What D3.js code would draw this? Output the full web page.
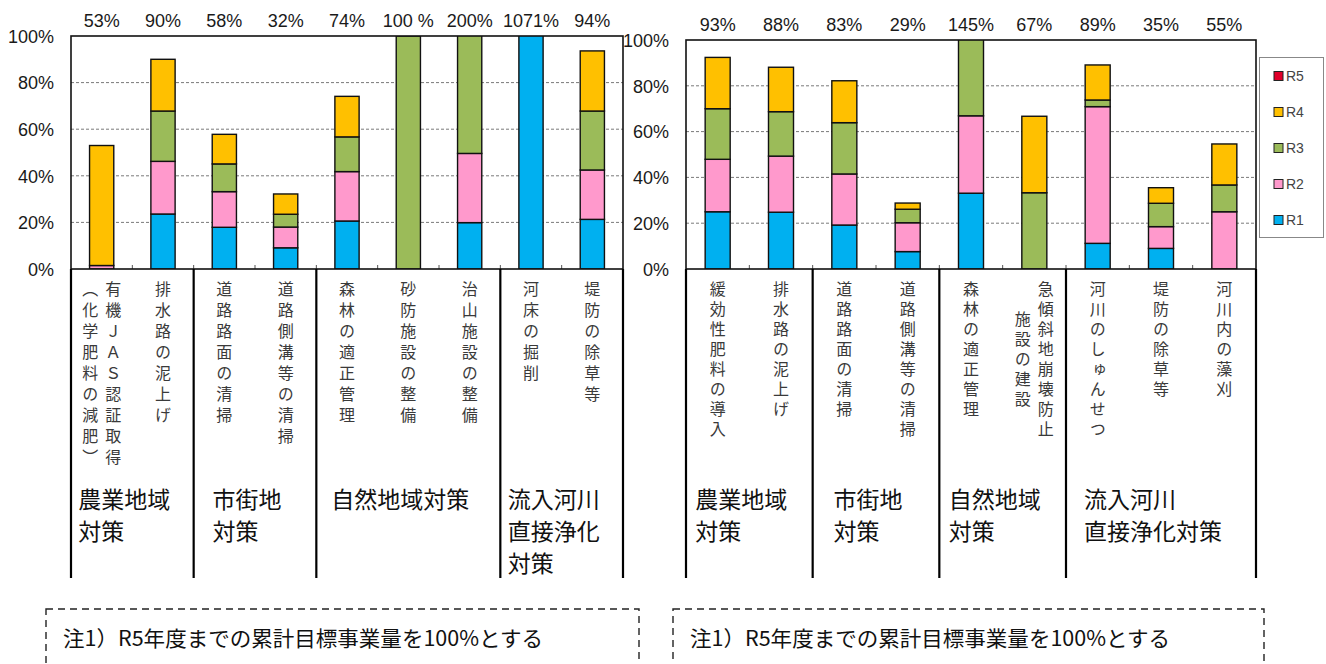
<!DOCTYPE html>
<html>
<head>
<meta charset="utf-8">
<script src="https://cdn.jsdelivr.net/npm/d3@7"></script>
<style>
  html, body { margin: 0; padding: 0; background: #fff; }
  svg { display: block; }
  .num { font-family: "Liberation Sans", Arial, sans-serif; }
  .jp { font-family: "Noto Sans CJK JP", sans-serif; }
</style>
</head>
<body>
<svg id="chart" width="1326" height="664"></svg>
<script>
// ---------------- DATA ----------------
const seriesNames = ["R1", "R2", "R3", "R4", "R5"];
const seriesColors = ["#00B0F0", "#FF99CC", "#9BBB59", "#FFC000", "#E0002A"];
const yTicks = [0, 20, 40, 60, 80, 100];

// Left chart
const leftCategories = ["有機JAS", "排水路L", "道路路面L", "道路側溝L", "森林L", "砂防", "治山", "河床", "堤防L"];
const leftLabelCols = [
  ["有機ＪＡＳ認証取得", "（化学肥料の減肥）"],
  ["排水路の泥上げ"],
  ["道路路面の清掃"],
  ["道路側溝等の清掃"],
  ["森林の適正管理"],
  ["砂防施設の整備"],
  ["治山施設の整備"],
  ["河床の掘削"],
  ["堤防の除草等"]
];
const leftR1 = [0, 23.6, 17.9, 9.1, 20.6, 0, 19.9, 1071, 21.3];
const leftR2 = [1.5, 22.6, 15.3, 8.9, 21.2, 0, 29.7, 0, 21.2];
const leftR3 = [0, 21.6, 11.9, 5.5, 14.9, 100, 150.4, 0, 25.3];
const leftR4 = [51.5, 22.2, 12.7, 8.7, 17.4, 0, 0, 0, 25.8];
const leftR5 = [0, 0, 0, 0, 0, 0, 0, 0, 0];
const leftTotals = ["53%", "90%", "58%", "32%", "74%", "100 %", "200%", "1071%", "94%"];
const leftGroupLines = [["農業地域", "対策"], ["市街地", "対策"], ["自然地域対策"], ["流入河川", "直接浄化", "対策"]];
const leftGroupSizes = [2, 2, 3, 2];

// Right chart
const rightCategories = ["緩効性", "排水路R", "道路路面R", "道路側溝R", "森林R", "急傾斜", "河川しゅんせつ", "堤防R", "藻刈"];
const rightLabelCols = [
  ["緩効性肥料の導入"],
  ["排水路の泥上げ"],
  ["道路路面の清掃"],
  ["道路側溝等の清掃"],
  ["森林の適正管理"],
  ["急傾斜地崩壊防止", "施設の建設"],
  ["河川のしゅんせつ"],
  ["堤防の除草等"],
  ["河川内の藻刈"]
];
const rightR1 = [25.0, 24.8, 19.2, 7.6, 33.1, 0, 11.2, 9.0, 0];
const rightR2 = [22.9, 24.5, 22.3, 12.6, 33.8, 0, 59.7, 9.5, 25.0];
const rightR3 = [22.1, 19.4, 22.4, 5.9, 78.1, 33.3, 2.9, 10.2, 11.7];
const rightR4 = [22.4, 19.4, 18.3, 2.7, 0, 33.4, 15.3, 6.8, 17.9];
const rightR5 = [0, 0, 0, 0, 0, 0, 0, 0, 0];
const rightTotals = ["93%", "88%", "83%", "29%", "145%", "67%", "89%", "35%", "55%"];
const rightGroupLines = [["農業地域", "対策"], ["市街地", "対策"], ["自然地域", "対策"], ["流入河川", "直接浄化対策"]];
const rightGroupSizes = [2, 2, 2, 3];

const noteText = "注1）R5年度までの累計目標事業量を100%とする";

// ---------------- DRAW ----------------
const svg = d3.select("#chart");

function drawChart(cfg) {
  const { id, left, right, top, bottom, cats, labelCols, series, totals, groupLines, groupSizes,
          yLabelX, totalsY, charPitch, lineBottom } = cfg;
  const g = svg.append("g");
  const x = d3.scaleBand().domain(cats).range([left, right]).paddingInner(0.605).paddingOuter(0.3025);
  const y = d3.scaleLinear().domain([0, 100]).range([bottom, top]);
  const step = x.step();
  const boundary = i => left + i * step;

  // gridlines
  g.selectAll(".grid").data(yTicks.filter(t => t > 0 && t < 100)).join("line")
    .attr("x1", left).attr("x2", right)
    .attr("y1", d => y(d)).attr("y2", d => y(d))
    .attr("stroke", "#7a7a7a").attr("stroke-width", 1).attr("stroke-dasharray", "3,2");

  // y labels
  g.selectAll(".ylab").data(yTicks).join("text")
    .attr("class", "num")
    .attr("x", yLabelX).attr("y", d => y(d) + 2)
    .attr("text-anchor", "end").attr("dominant-baseline", "middle")
    .attr("font-size", 18).attr("fill", "#1a1a1a")
    .text(d => d + "%");

  // clip
  svg.append("clipPath").attr("id", "clip" + id)
    .append("rect").attr("x", left).attr("y", top).attr("width", right - left).attr("height", bottom - top);

  // stacked bars
  const rows = cats.map((c, i) => {
    const o = { cat: c };
    seriesNames.forEach((s, k) => o[s] = series[k][i]);
    return o;
  });
  const stack = d3.stack().keys(seriesNames)(rows);
  const barG = g.append("g").attr("clip-path", `url(#clip${id})`);
  stack.forEach((layer, k) => {
    barG.selectAll(".seg" + k).data(layer.filter(d => d[1] - d[0] > 0)).join("rect")
      .attr("x", d => x(d.data.cat))
      .attr("width", x.bandwidth())
      .attr("y", d => y(d[1]))
      .attr("height", d => y(d[0]) - y(d[1]))
      .attr("fill", seriesColors[k])
      .attr("stroke", "#111").attr("stroke-width", 1.4);
  });

  // tick marks at bottom
  g.selectAll(".tick").data(d3.range(1, cats.length)).join("line")
    .attr("x1", d => boundary(d)).attr("x2", d => boundary(d))
    .attr("y1", bottom).attr("y2", bottom - 4)
    .attr("stroke", "#555").attr("stroke-width", 1);

  // plot frame
  g.append("rect").attr("x", left).attr("y", top).attr("width", right - left).attr("height", bottom - top)
    .attr("fill", "none").attr("stroke", "#111").attr("stroke-width", 1.6);

  // totals on top
  g.selectAll(".tot").data(totals).join("text")
    .attr("class", "num")
    .attr("x", (d, i) => x(cats[i]) + x.bandwidth() / 2)
    .attr("y", totalsY)
    .attr("text-anchor", "middle").attr("dominant-baseline", "middle")
    .attr("font-size", 18).attr("fill", "#1a1a1a")
    .text(d => d);

  // vertical category labels
  const vfs = 16;
  labelCols.forEach((cols, i) => {
    const cx = x(cats[i]) + x.bandwidth() / 2;
    const n = cols.length;
    cols.forEach((txt, j) => {
      const colX = n === 1 ? cx : cx + (j === 0 ? 11.5 : -11.5);
      const offset = j === 0 ? 0 : (cols[0].length - txt.length) * charPitch / 2;
      g.append("text")
        .attr("class", "jp")
        .attr("x", colX).attr("y", 281 + offset)
        .attr("font-size", vfs)
        .attr("fill", "#3a3a3a")
        .style("writing-mode", "vertical-rl")
        .style("letter-spacing", (charPitch - vfs) + "px")
        .text(txt);
    });
  });

  // group dividers and labels
  let idx = 0;
  const bounds = [0];
  groupSizes.forEach(s => { idx += s; bounds.push(idx); });
  g.selectAll(".div").data(bounds).join("line")
    .attr("x1", d => boundary(d)).attr("x2", d => boundary(d))
    .attr("y1", bottom).attr("y2", lineBottom)
    .attr("stroke", "#000").attr("stroke-width", 2.2);

  groupLines.forEach((lines, gi) => {
    const gx0 = boundary(bounds[gi]), gx1 = boundary(bounds[gi + 1]);
    const fs = 23;
    const blockW = d3.max(lines, l => l.length) * fs;
    const lx = (gx0 + gx1) / 2 - blockW / 2 - 8;
    lines.forEach((l, li) => {
      g.append("text").attr("class", "jp")
        .attr("x", lx).attr("y", 502 + li * 32)
        .attr("dominant-baseline", "middle")
        .attr("font-size", fs).attr("fill", "#111")
        .text(l);
    });
  });
}

drawChart({
  id: "L", left: 71, right: 623, top: 36, bottom: 269,
  cats: leftCategories, labelCols: leftLabelCols,
  series: [leftR1, leftR2, leftR3, leftR4, leftR5], totals: leftTotals,
  groupLines: leftGroupLines, groupSizes: leftGroupSizes,
  yLabelX: 54, totalsY: 22, charPitch: 21, lineBottom: 578
});

drawChart({
  id: "R", left: 686, right: 1256, top: 40, bottom: 269,
  cats: rightCategories, labelCols: rightLabelCols,
  series: [rightR1, rightR2, rightR3, rightR4, rightR5], totals: rightTotals,
  groupLines: rightGroupLines, groupSizes: rightGroupSizes,
  yLabelX: 669, totalsY: 26, charPitch: 20, lineBottom: 578
});

// legend
const legend = svg.append("g");
legend.append("rect").attr("x", 1259.5).attr("y", 57.5).attr("width", 64).attr("height", 180)
  .attr("fill", "#fff").attr("stroke", "#888").attr("stroke-width", 1);
const legendOrder = seriesNames.map((s, k) => ({ s, k })).reverse();
const ly = d3.scalePoint().domain(legendOrder.map(d => d.s)).range([76, 220]);
legend.selectAll(".lsw").data(legendOrder).join("rect")
  .attr("x", 1274).attr("y", d => ly(d.s) - 4.5).attr("width", 9).attr("height", 9)
  .attr("fill", d => seriesColors[d.k]).attr("stroke", "#222").attr("stroke-width", 1);
legend.selectAll(".ltx").data(legendOrder).join("text")
  .attr("class", "num")
  .attr("x", 1286).attr("y", d => ly(d.s) + 1)
  .attr("dominant-baseline", "middle")
  .attr("font-size", 14).attr("fill", "#444")
  .text(d => d.s);

// note boxes
const noteBoxes = [{ x: 46, w: 593 }, { x: 673, w: 591 }];
noteBoxes.forEach(b => {
  svg.append("rect").attr("x", b.x).attr("y", 609).attr("width", b.w).attr("height", 100)
    .attr("fill", "none").attr("stroke", "#222").attr("stroke-width", 1.4)
    .attr("stroke-dasharray", "7,5");
  svg.append("text").attr("class", "jp")
    .attr("x", b.x + 17).attr("y", 640)
    .attr("dominant-baseline", "middle")
    .attr("font-size", 21).attr("fill", "#111")
    .attr("textLength", 480).attr("lengthAdjust", "spacingAndGlyphs")
    .text(noteText);
});
</script>
</body>
</html>
